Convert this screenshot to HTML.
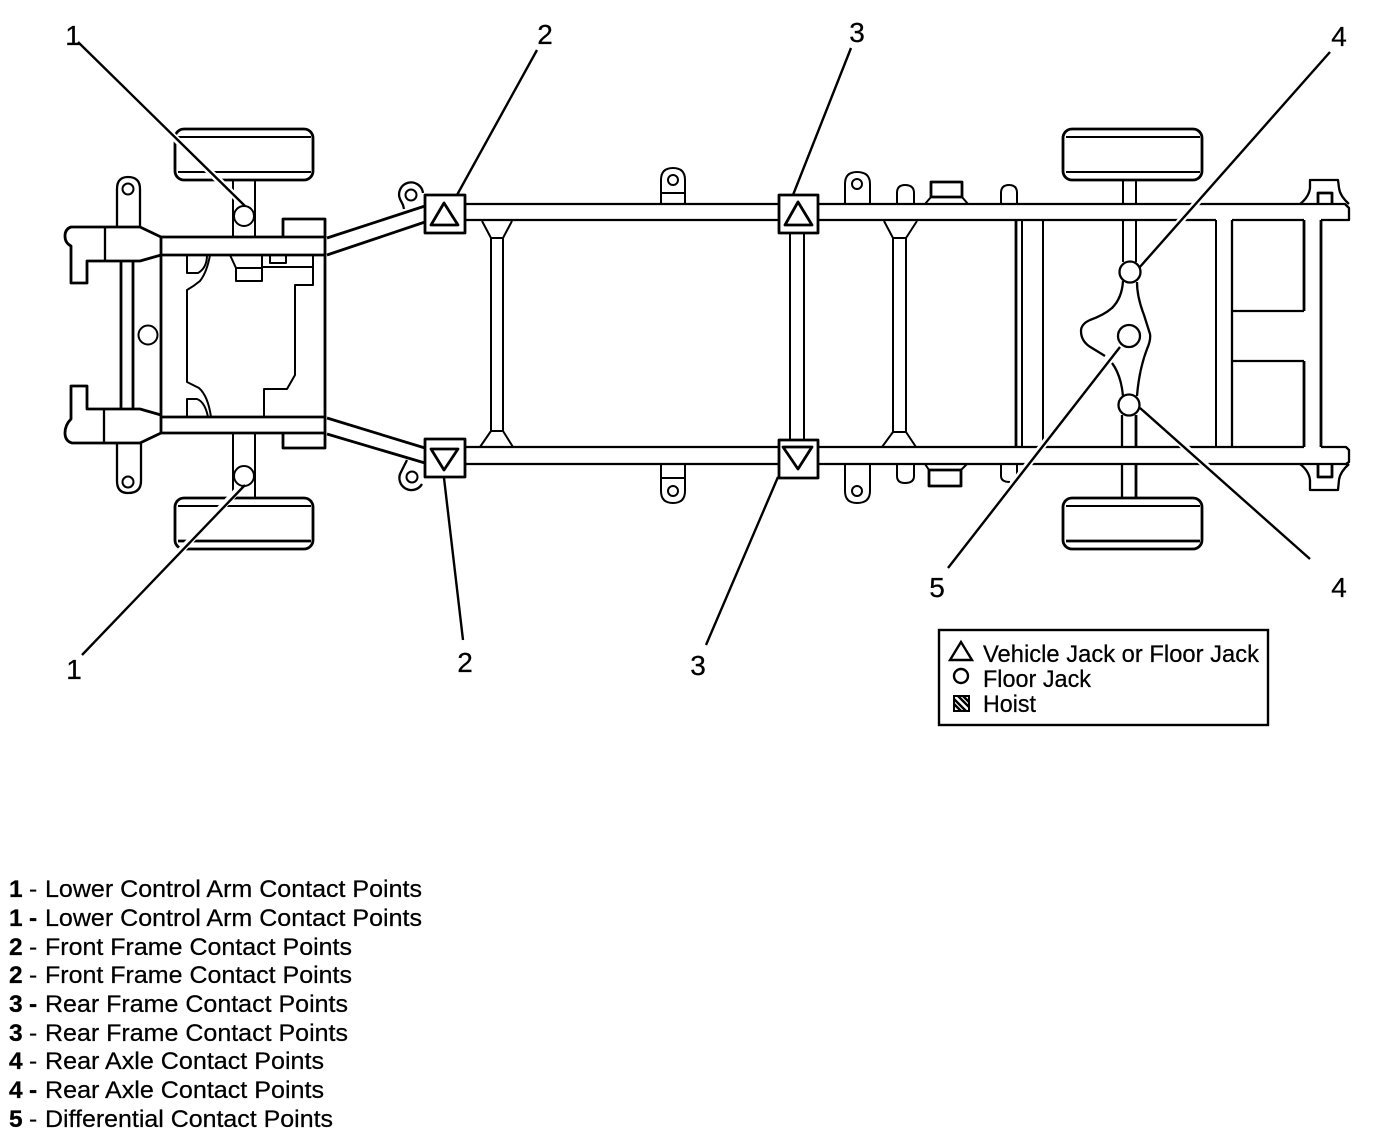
<!DOCTYPE html>
<html><head><meta charset="utf-8"><style>
html,body{margin:0;padding:0;background:#fff;width:1392px;height:1138px;overflow:hidden}
svg{display:block}
text{font-family:"Liberation Sans",sans-serif;fill:#000;stroke:#000;stroke-width:.25}
.d{fill:none;stroke:#000;stroke-width:2;stroke-linejoin:round}
.t{stroke-width:2.8}
.m{stroke-width:2.3}
.w{fill:none;stroke:#fff;stroke-width:7}
.l{fill:none;stroke:#000;stroke-width:2.4}
.n{font-size:28px}
.k{font-size:24.5px}
.s{font-size:24.5px}
</style></head><body>
<svg width="1392" height="1138" viewBox="0 0 1392 1138" xmlns="http://www.w3.org/2000/svg">
<g class="d">
<!-- front wheels -->
<rect x="175" y="129" width="138" height="51" rx="9" class="t"/>
<path d="M178 137H311M178 172H311"/>
<rect x="175" y="498" width="138" height="51" rx="9" class="t"/>
<path d="M178 506H311"/><path d="M178 541H311" class="t"/>
<!-- front axles -->
<path d="M233 180V238M255 180V238M233 433V498M255 433V498"/>
<!-- bumper arms -->
<path class="t" d="M161 237L140 227H71Q65 229 65 236Q65 243 71 246V283H87V261H140L161 255"/>
<path class="t" d="M161 433L140 443H72Q65 441 65 433Q65 425 71 419V386H87V409H140L161 415"/>
<path class="m" d="M105 227V261M104 409V443"/><path class="t" d="M121 261V409M133 261V409"/>
<path class="m" d="M117 227V189Q117 177 128 177Q140 177 140 189V227"/>
<path class="m" d="M117 443V481Q117 493 128 493Q141 493 141 481V443"/>
<circle cx="128" cy="189" r="5.5"/><circle cx="128" cy="482" r="5.5"/>
<circle cx="148" cy="335" r="9.5"/>
<!-- front crossmember -->
<rect x="161" y="237" width="164" height="18" class="t"/>
<rect x="161" y="417" width="164" height="16" class="t"/>
<path class="t" d="M161 255V417M325 255V417"/>
<path class="t" d="M283 237V219H325V237M283 433V448H325V433"/>
<!-- engine -->
<path d="M187 255V273H198Q207 268 207 255"/>
<path d="M210 255Q207 272 200 281Q194 286 187 290V382L199 388Q208 396 211 417"/>
<path d="M187 417V399H197Q205 402 208 417"/>
<path d="M230 255L236 268V281H262V255M236 268H262"/>
<path d="M262 267H313M313 255V285H295V375L287 389H264V417"/>
<rect x="270" y="255" width="16" height="8"/>
<!-- control arms -->
<path class="t" d="M327 238L425 206M327 255L425 222M327 418L425 448M327 434L425 463"/>
<path class="m" d="M404 209L403 205L400 199A12 12 0 1 1 423 193"/>
<path class="m" d="M407 460L401 472A12 12 0 0 0 422 484"/>
<circle cx="411" cy="195" r="5.5"/><circle cx="412" cy="477" r="5.5"/>
<!-- main rails -->
<path class="m" d="M465 204H779M818 204H1345L1349 208V220H1321M465 220H779M818 220H1216M1232 220H1304"/>
<path class="m" d="M465 447H779M818 447H1304M1321 447H1346L1349 450V462L1346 464H818M465 464H779"/>
<path class="t" d="M1321 220V447M1304 220V311M1304 361V447"/>
<!-- crossmember 1 -->
<path d="M491 238V431M503 238V431M482 221L491 238H503L512 221"/>
<path d="M480 447L491 431H503L513 447"/>
<!-- crossmember 2 -->
<path d="M790 233V440M804 233V440"/>
<!-- crossmember 3 -->
<path d="M893 238V432M906 238V432M884 221L893 238H906L917 221"/>
<path d="M882 447L893 432H906L916 447"/>
<!-- vertical bars -->
<path class="t" d="M1016 220V447"/><path d="M1022 220V447M1043 220V447"/>
<!-- mid tabs -->
<path d="M661 204V180Q661 168 673 168Q685 168 685 180V204M661 193H685"/>
<path d="M661 464V491Q661 503 673 503Q685 503 685 491V464M661 478H685"/>
<circle cx="673" cy="180" r="5"/><circle cx="673" cy="491" r="5"/>
<path d="M845 204V184Q845 172 857 172Q870 172 870 184V204"/>
<path d="M845 464V491Q845 503 857 503Q870 503 870 491V464"/>
<circle cx="857" cy="184" r="5"/><circle cx="857" cy="491" r="5"/>
<path d="M897 204V193Q897 185 905 185Q914 185 914 193V204"/>
<path d="M897 464V476Q897 483 905 483Q914 483 914 476V464"/>
<path d="M1001 204V193Q1001 185 1009 185Q1017 185 1017 193V204"/>
<path d="M1001 464V476Q1001 482 1010 482"/><path d="M1017 464V475"/>
<path class="t" d="M931 197V182H962V197M931 197H962"/>
<path d="M925 204L931 197M962 197L968 204M925 464L929 470M961 470L967 464"/>
<path class="t" d="M929 470H961V486H929Z"/>
<!-- rear axle -->
<path d="M1123 180V204M1136 180V204M1123 220V262M1136 220V262"/>
<path class="m" d="M1122 415V447M1122 464V498"/><path class="t" d="M1136 415V447M1136 464V498"/>
<rect x="1063" y="129" width="139" height="51" rx="9" class="t"/>
<path d="M1066 137H1200"/><path d="M1066 172H1200"/>
<rect x="1063" y="498" width="139" height="51" rx="9" class="t"/>
<path d="M1066 506H1200"/><path d="M1066 541H1200" class="t"/>
<!-- differential -->
<path class="m" d="M1123 281Q1122 298 1112 308Q1104 315 1090 320Q1081 324 1081 331Q1081 342 1092 348L1105 356"/>
<path class="m" d="M1112 363Q1121 375 1123 396"/>
<path class="m" d="M1137 282Q1137 297 1144 315L1150 334Q1151 340 1147 349Q1139 370 1137 396"/>
<!-- right cross & boxes -->
<path d="M1216 220V447"/><path class="m" d="M1232 220V447M1304 311H1232M1304 361H1232"/>
<!-- rear hats -->
<path class="m" d="M1300 204Q1309 197 1310 188L1310 180H1338L1339 188Q1340 196 1349 204"/>
<path class="m" d="M1300 464Q1309 471 1310 480L1310 490H1338L1339 480Q1340 472 1349 464"/>
<path class="t" d="M1318 204V193H1332V204M1318 465V477H1332V465"/>
</g>
<!-- leaders with white halo -->
<g class="w">
<path d="M84 50L238 199M537 50L457 195M851 48L793 195M1330 52L1146 260M88 649L239 489M448 490L463 640M773 490L706 645M948 568L1112 356M1310 559L1148 414"/>
</g>
<g class="d">
<circle cx="244" cy="216" r="10" style="fill:#fff"/>
<circle cx="244" cy="476" r="10" style="fill:#fff"/>
<circle cx="1130" cy="272" r="10.5" class="m" style="fill:#fff"/>
<circle cx="1129" cy="336" r="11" class="m" style="fill:#fff"/>
<circle cx="1129" cy="405" r="10.5" class="m" style="fill:#fff"/>
<rect x="425" y="195" width="40" height="38" class="t" style="fill:#fff"/>
<path d="M444 203L431 225H458Z" class="t" style="fill:#fff"/>
<rect x="425" y="439" width="40" height="38" class="t" style="fill:#fff"/>
<path d="M431 449H458L444 470Z" class="t" style="fill:#fff"/>
<rect x="779" y="195" width="39" height="38" class="t" style="fill:#fff"/>
<path d="M798 202L785 225H812Z" class="t" style="fill:#fff"/>
<rect x="779" y="440" width="39" height="38" class="t" style="fill:#fff"/>
<path d="M783 447H812L798 469Z" class="t" style="fill:#fff"/>
</g>
<g class="l">
<path d="M78 42L245 206M537 50L457 195M851 48L793 195M1330 52L1139 268M82 655L245 485M444 478L463 640M778 477L706 645M948 568L1120 347M1310 559L1140 408"/>
</g>
<!-- callout numbers -->
<g class="n" text-anchor="middle">
<text x="73" y="45">1</text><text x="545" y="44">2</text><text x="857" y="42">3</text><text x="1339" y="46">4</text>
<text x="74" y="679">1</text><text x="465" y="672">2</text><text x="698" y="675">3</text><text x="937" y="597">5</text><text x="1339" y="597">4</text>
</g>
<!-- legend -->
<rect x="939" y="630" width="329" height="95" fill="none" stroke="#000" stroke-width="2.4"/>
<path d="M961 642L950 660H972Z" fill="none" stroke="#000" stroke-width="2.4"/>
<circle cx="961" cy="676" r="7" fill="none" stroke="#000" stroke-width="2.4"/>
<rect x="954" y="696" width="15" height="15" fill="#fff" stroke="#000" stroke-width="2"/>
<path d="M954 699L966 711M954 704L961 711M958 696L969 707M963 696L969 702" stroke="#000" stroke-width="2.4" fill="none"/>
<g class="k">
<text x="983" y="662" textLength="276" lengthAdjust="spacingAndGlyphs">Vehicle Jack or Floor Jack</text>
<text x="983" y="687" textLength="108" lengthAdjust="spacingAndGlyphs">Floor Jack</text>
<text x="983" y="712" textLength="53" lengthAdjust="spacingAndGlyphs">Hoist</text>
</g>
<!-- key list -->
<g class="s">
<text x="9" y="897" font-weight="700">1</text><text x="29" y="897">-</text><text x="45" y="897" textLength="377" lengthAdjust="spacingAndGlyphs">Lower Control Arm Contact Points</text>
<text x="9" y="926" font-weight="700">1</text><text x="29" y="926" font-weight="700">-</text><text x="45" y="926" textLength="377" lengthAdjust="spacingAndGlyphs">Lower Control Arm Contact Points</text>
<text x="9" y="955" font-weight="700">2</text><text x="29" y="955">-</text><text x="45" y="955" textLength="307" lengthAdjust="spacingAndGlyphs">Front Frame Contact Points</text>
<text x="9" y="983" font-weight="700">2</text><text x="29" y="983">-</text><text x="45" y="983" textLength="307" lengthAdjust="spacingAndGlyphs">Front Frame Contact Points</text>
<text x="9" y="1012" font-weight="700">3</text><text x="29" y="1012" font-weight="700">-</text><text x="45" y="1012" textLength="303" lengthAdjust="spacingAndGlyphs">Rear Frame Contact Points</text>
<text x="9" y="1041" font-weight="700">3</text><text x="29" y="1041">-</text><text x="45" y="1041" textLength="303" lengthAdjust="spacingAndGlyphs">Rear Frame Contact Points</text>
<text x="9" y="1069" font-weight="700">4</text><text x="29" y="1069">-</text><text x="45" y="1069" textLength="279" lengthAdjust="spacingAndGlyphs">Rear Axle Contact Points</text>
<text x="9" y="1098" font-weight="700">4</text><text x="29" y="1098" font-weight="700">-</text><text x="45" y="1098" textLength="279" lengthAdjust="spacingAndGlyphs">Rear Axle Contact Points</text>
<text x="9" y="1127" font-weight="700">5</text><text x="29" y="1127">-</text><text x="45" y="1127" textLength="288" lengthAdjust="spacingAndGlyphs">Differential Contact Points</text>
</g>
</svg>
</body></html>
